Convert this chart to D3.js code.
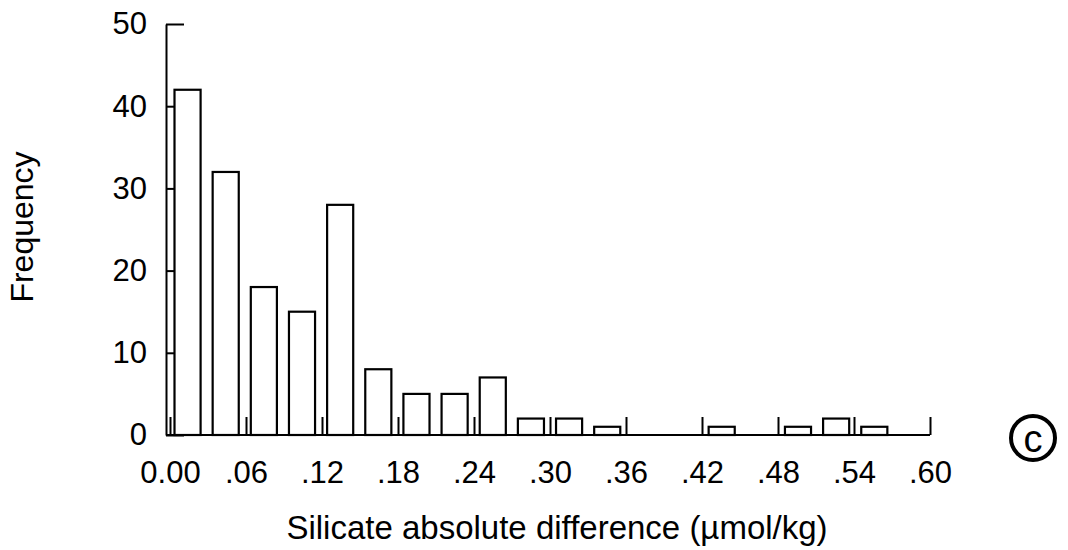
<!DOCTYPE html>
<html>
<head>
<meta charset="utf-8">
<script src="https://cdn.jsdelivr.net/npm/d3@7/dist/d3.min.js"></script>
<style>
  html, body { margin: 0; padding: 0; background: #fff; }
  svg { display: block; }
  text { font-family: "Liberation Sans", Arial, sans-serif; fill: #000; }
</style>
</head>
<body>
<svg id="chart" width="1068" height="550"></svg>
<script>
// ---- data ----
const binStarts = [0.00, 0.03, 0.06, 0.09, 0.12, 0.15, 0.18, 0.21, 0.24, 0.27,
                   0.30, 0.33, 0.36, 0.39, 0.42, 0.45, 0.48, 0.51, 0.54, 0.57];
const frequencies = [42, 32, 18, 15, 28, 8, 5, 5, 7, 2,
                     2, 1, 0, 0, 1, 0, 1, 2, 1, 0];
const xTickValues = [0.00, 0.06, 0.12, 0.18, 0.24, 0.30, 0.36, 0.42, 0.48, 0.54, 0.60];
const yTickValues = [0, 10, 20, 30, 40, 50];
const xTitle = "Silicate absolute difference (µmol/kg)";
const yTitle = "Frequency";
const panelLabel = "c";

// ---- layout ----
const svg = d3.select("#chart");
const x0 = 170, x1 = 930, yAxisX = 166;
const yBottom = 435, yTop = 24;

const x = d3.scaleLinear().domain([0, 0.60]).range([x0, x1]);
const xb = d3.scaleBand().domain(binStarts).range([x0, x1])
  .paddingInner(0.316).paddingOuter(0.118);
const y = d3.scaleLinear().domain([0, 50]).range([yBottom, yTop]);

const ink = "#000";

// x axis
const fmt = d => d === 0 ? "0.00" : d3.format(".2f")(d).replace(/^0/, "");
const gx = svg.append("g")
  .attr("transform", `translate(0,${yBottom})`)
  .call(d3.axisBottom(x).tickValues(xTickValues).tickFormat(fmt)
    .tickSizeInner(-18).tickSizeOuter(0).tickPadding(26));
gx.select(".domain").remove();
gx.selectAll(".tick line").attr("stroke", ink).attr("stroke-width", 2);
gx.selectAll(".tick text").attr("font-size", 31).attr("fill", ink);

// y axis
const gy = svg.append("g")
  .attr("transform", `translate(${yAxisX},0)`)
  .call(d3.axisLeft(y).tickValues(yTickValues)
    .tickSizeInner(-18).tickSizeOuter(0).tickPadding(19));
gy.select(".domain").attr("stroke", ink).attr("stroke-width", 2);
gy.selectAll(".tick line").attr("stroke", ink).attr("stroke-width", 2);
gy.selectAll(".tick text").attr("font-size", 31).attr("fill", ink);

// bars
svg.append("g").selectAll("rect")
  .data(binStarts.map((b, i) => ({ b, v: frequencies[i] })).filter(d => d.v > 0))
  .join("rect")
  .attr("x", d => xb(d.b))
  .attr("width", xb.bandwidth())
  .attr("y", d => y(d.v))
  .attr("height", d => y(0) - y(d.v))
  .attr("fill", "#fff")
  .attr("stroke", ink)
  .attr("stroke-width", 2.2);

// baseline
svg.append("line")
  .attr("x1", yAxisX).attr("x2", x(0.60))
  .attr("y1", y(0)).attr("y2", y(0))
  .attr("stroke", ink).attr("stroke-width", 2.2);

// titles
svg.append("text")
  .attr("x", 557).attr("y", 539)
  .attr("text-anchor", "middle")
  .attr("font-size", 33)
  .text(xTitle);

svg.append("text")
  .attr("transform", "translate(33,227) rotate(-90)")
  .attr("text-anchor", "middle")
  .attr("font-size", 32)
  .text(yTitle);

// panel label (circled c)
svg.append("circle")
  .attr("cx", 1033).attr("cy", 438).attr("r", 22)
  .attr("fill", "none").attr("stroke", ink).attr("stroke-width", 4);
svg.append("text")
  .attr("x", 1033).attr("y", 438)
  .attr("dy", "0.36em")
  .attr("text-anchor", "middle")
  .attr("font-size", 38)
  .text(panelLabel);
</script>
</body>
</html>
